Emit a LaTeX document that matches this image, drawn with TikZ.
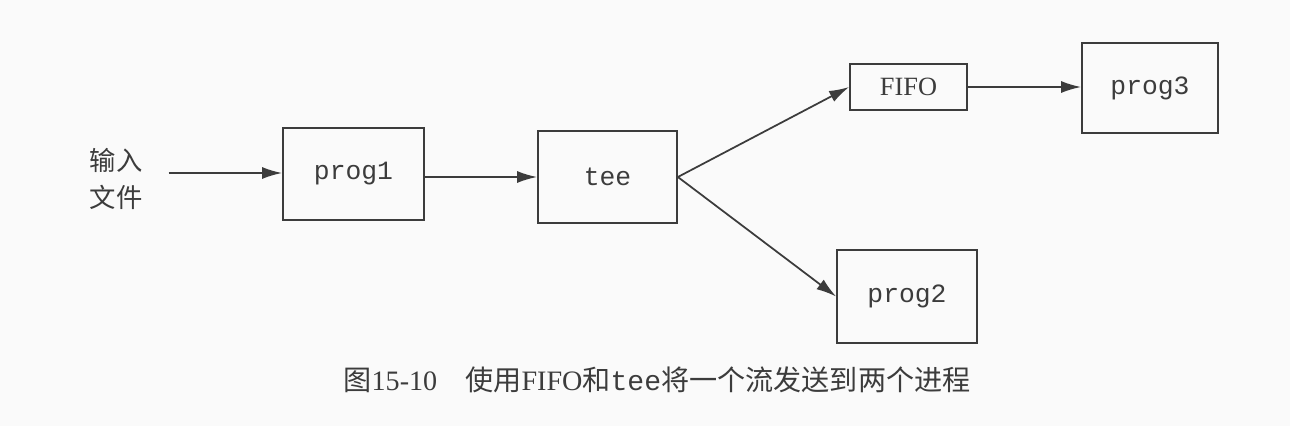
\documentclass[tikz,border=0pt]{standalone}
\usepackage{fontspec}
\setmainfont{Liberation Serif}
\setmonofont{Liberation Mono}
\newfontfamily\cjk{Noto Sans CJK SC}
\usepackage{xcolor}
\usepackage{tikz}
\usetikzlibrary{arrows.meta, positioning}
\definecolor{inkgray}{RGB}{60, 60, 60}
\definecolor{paper}{RGB}{250, 250, 250}

\begin{document}
\begin{tikzpicture}[x=0.02cm, y=-0.02cm,
    prog/.style={draw=inkgray, line width=1pt, inner sep=0pt, text=inkgray,
        font=\fontsize{15}{17}\selectfont\ttfamily},
    flow/.style={draw=inkgray, line width=1pt, -{Latex[length=4mm, width=2.4mm]}}]
    % Background
    \fill[paper] (0,0) rectangle (1290,426);
    \useasboundingbox (0,0) rectangle (1290,426);

    % Input
    \node[align=center, text=inkgray, font=\fontsize{15}{21.5}\selectfont\cjk] (input) at (116,179) {输入\\文件};

    % Processes
    \node[prog, minimum width=141*0.02cm, minimum height=92*0.02cm] (prog1) at (353.5,174) {prog1};
    \node[prog, minimum width=139*0.02cm, minimum height=92*0.02cm] (tee) at (607.5,177) {tee};
    \node[prog, minimum width=117*0.02cm, minimum height=46*0.02cm,
        font=\fontsize{15}{18}\selectfont\rmfamily] (fifo) at (908.5,87) {FIFO};
    \node[prog, minimum width=136*0.02cm, minimum height=90*0.02cm] (prog3) at (1150,88) {prog3};
    \node[prog, minimum width=140*0.02cm, minimum height=93*0.02cm] (prog2) at (907,296.5) {prog2};

    % Connectors
    \draw[flow] (input.east |- prog1.west) ++(20,-1) coordinate (src) -- (prog1.west |- src);
    \draw[flow] (prog1.east |- tee.west) -- (tee.west);
    \draw[flow] (tee.east) -- (fifo.west);
    \draw[flow] (tee.east) -- (prog2.west);
    \draw[flow] (fifo.east) -- (prog3.west |- fifo.east);

    % Caption
    \node[text=inkgray, font=\fontsize{16}{19}\selectfont] (caption) at (657,380)
        {{\cjk 图}15-10\quad{\cjk 使用}FIFO{\cjk 和}\texttt{tee}{\cjk 将一个流发送到两个进程}};
\end{tikzpicture}
\end{document}
